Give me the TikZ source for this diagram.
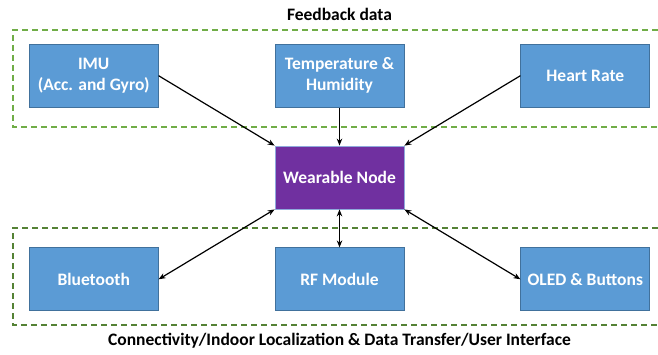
\documentclass[tikz,border=0pt]{standalone}
\usepackage{fontspec}
\setmainfont{Carlito}
\usepackage{xcolor}
\usetikzlibrary{arrows.meta, positioning}

\definecolor{unitblue}{HTML}{5B9BD5}
\definecolor{unitedge}{HTML}{41719C}
\definecolor{nodepurple}{HTML}{7030A0}
\definecolor{nodeedge}{HTML}{8FAADC}
\definecolor{feedgreen}{HTML}{70AD47}
\definecolor{linkgreen}{HTML}{548235}

\begin{document}
\begin{tikzpicture}[x=1pt, y=-1pt, node distance=38pt and 116pt,
    unit/.style={rectangle, draw=unitedge, fill=unitblue, line width=0.8pt,
                 minimum width=129pt, minimum height=63pt, text=white,
                 align=center, inner sep=2pt,
                 font=\fontsize{17.5}{21}\selectfont\bfseries},
    hub/.style={unit, draw=nodeedge, fill=nodepurple},
    group/.style={dashed, line width=2.8pt, dash pattern=on 6pt off 4pt},
    grouptitle/.style={font=\fontsize{17.5}{20}\selectfont\bfseries},
    arrow/.style={-{Stealth[length=7pt, width=5.5pt]}, line width=1.2pt},
    link/.style={{Stealth[length=7pt, width=5.5pt]}-{Stealth[length=7pt, width=5.5pt]}, line width=1.2pt}
]
\useasboundingbox (0,0) rectangle (658,354);

% --- Central node ---
\node (wn) [hub] at (339.5,177.5) {Wearable Node};

% --- Feedback sensors ---
\node (th)  [unit, above=of wn] {Temperature \&\\Humidity};
\node (imu) [unit, left=of th] {IMU\\(Acc. and Gyro)};
\node (hr)  [unit, right=of th] {Heart Rate};

% --- Connectivity and interface ---
\node (rf)   [unit, below=of wn] {RF Module};
\node (bt)   [unit, left=of rf] {Bluetooth};
\node (oled) [unit, right=of rf] {OLED \& Buttons};

% --- Group frames ---
\draw [group, feedgreen] (658,30) -- (13,30) -- (13,127) -- (658,127);
\draw [group, linkgreen] (658,228) -- (13,228) -- (13,325) -- (658,325);

% --- Arrows ---
\draw [arrow] (imu.east) -- (wn.north west);
\draw [arrow] (th) -- (wn);
\draw [arrow] (hr.west) -- (wn.north east);
\draw [link]  (wn.south west) -- (bt.east);
\draw [link]  (wn) -- (rf);
\draw [link]  (wn.south east) -- (oled.west);

% --- Group labels ---
\node (fbl) [grouptitle] at (339.5,14) {Feedback data};
\node (cnl) [grouptitle] at (339.5,341) {Connectivity/Indoor Localization \& Data Transfer/User Interface};
\end{tikzpicture}
\end{document}
